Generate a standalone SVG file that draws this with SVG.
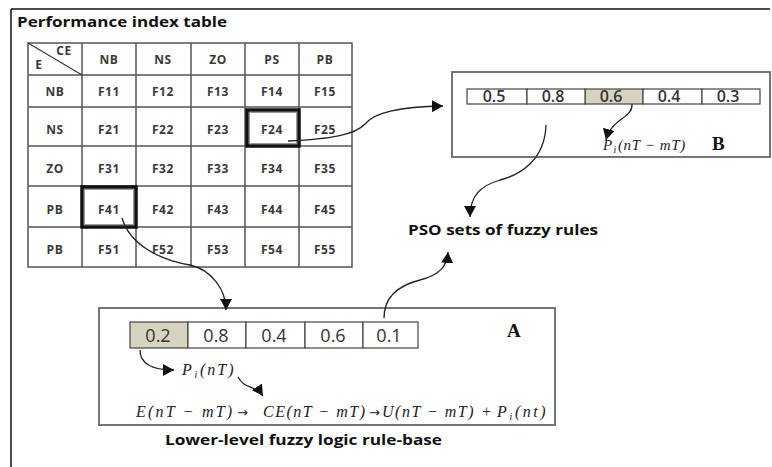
<svg xmlns="http://www.w3.org/2000/svg" width="772" height="467" viewBox="0 0 772 467">
  <defs>
    <marker id="arrow" markerUnits="userSpaceOnUse" markerWidth="12" markerHeight="12" refX="11" refY="6" orient="auto">
      <path d="M0,0 L11,6 L0,12 Z" fill="#111"/>
    </marker>
    <style>
      .frame { fill: none; stroke: #111; stroke-width: 1.5; }
      .grid { fill: none; stroke: #555; stroke-width: 1.5; }
      .cell { font-family: "Open Sans", "Liberation Sans", sans-serif; font-weight: bold; font-size: 12px; letter-spacing: 0.6px; fill: #3a3a3a; text-anchor: middle; }
      .hot { fill: none; stroke: #111; stroke-width: 3.5; }
      .hot-inner { fill: none; stroke: #999; stroke-width: 1; }
      .box { fill: #fff; stroke: #666; stroke-width: 1.8; }
      .vcell { fill: #fff; stroke: #444; stroke-width: 1.2; }
      .vcell.sel { fill: #d8d3bf; }
      .valB { font-family: "Open Sans", "Liberation Sans", sans-serif; font-size: 16px; font-weight: 600; fill: #333; text-anchor: middle; }
      .valA { font-family: "Open Sans", "Liberation Sans", sans-serif; font-size: 18px; fill: #333; text-anchor: middle; }
      .title { font-family: "Open Sans", "Liberation Sans", sans-serif; font-weight: bold; font-size: 14px; fill: #111; }
      .math { font-family: "Liberation Serif", "DejaVu Serif", serif; font-style: italic; font-size: 16px; letter-spacing: 1.5px; fill: #222; }
      .sub { font-size: 10px; }
      .op { font-family: "DejaVu Sans", sans-serif; font-style: normal; font-size: 13px; fill: #222; }
      .tag { font-family: "Liberation Serif", "DejaVu Serif", serif; font-weight: bold; font-size: 19px; fill: #111; }
      .conn { fill: none; stroke: #222; stroke-width: 1.3; marker-end: url(#arrow); }
    </style>
  </defs>

  <rect width="772" height="467" fill="#fff"/>

  <!-- outer frame: top and left edges -->
  <path class="frame" d="M11,9 H770 M11,9 V467"/>

  <text class="title" x="17" y="27" textLength="210" lengthAdjust="spacingAndGlyphs">Performance index table</text>

  <!-- performance index table -->
  <g id="table">
    <path class="grid" d="M28,43 H352 V267 H28 Z
      M82,43 V267 M136,43 V267 M191,43 V267 M245,43 V267 M299,43 V267
      M28,75 H352 M28,107 H352 M28,146 H352 M28,186 H352 M28,227 H352"/>
    <path d="M28,43 L82,75" stroke="#333" stroke-width="1.2"/>
    <text class="cell" x="64" y="55">CE</text>
    <text class="cell" x="39" y="69">E</text>

    <text class="cell" x="109" y="64">NB</text>
    <text class="cell" x="163" y="64">NS</text>
    <text class="cell" x="218" y="64">ZO</text>
    <text class="cell" x="272" y="64">PS</text>
    <text class="cell" x="325" y="64">PB</text>

    <text class="cell" x="55" y="96">NB</text>
    <text class="cell" x="109" y="96">F11</text>
    <text class="cell" x="163" y="96">F12</text>
    <text class="cell" x="218" y="96">F13</text>
    <text class="cell" x="272" y="96">F14</text>
    <text class="cell" x="325" y="96">F15</text>

    <text class="cell" x="55" y="134">NS</text>
    <text class="cell" x="109" y="134">F21</text>
    <text class="cell" x="163" y="134">F22</text>
    <text class="cell" x="218" y="134">F23</text>
    <text class="cell" x="272" y="134">F24</text>
    <text class="cell" x="325" y="134">F25</text>

    <text class="cell" x="55" y="173">ZO</text>
    <text class="cell" x="109" y="173">F31</text>
    <text class="cell" x="163" y="173">F32</text>
    <text class="cell" x="218" y="173">F33</text>
    <text class="cell" x="272" y="173">F34</text>
    <text class="cell" x="325" y="173">F35</text>

    <text class="cell" x="55" y="214">PB</text>
    <text class="cell" x="109" y="214">F41</text>
    <text class="cell" x="163" y="214">F42</text>
    <text class="cell" x="218" y="214">F43</text>
    <text class="cell" x="272" y="214">F44</text>
    <text class="cell" x="325" y="214">F45</text>

    <text class="cell" x="55" y="254">PB</text>
    <text class="cell" x="109" y="254">F51</text>
    <text class="cell" x="163" y="254">F52</text>
    <text class="cell" x="218" y="254">F53</text>
    <text class="cell" x="272" y="254">F54</text>
    <text class="cell" x="325" y="254">F55</text>
  </g>

  <!-- highlighted cells -->
  <g id="cell-F24">
    <rect class="hot" x="247" y="110" width="52" height="36"/>
    <rect class="hot-inner" x="249.5" y="112.5" width="47" height="31"/>
  </g>
  <g id="cell-F41">
    <rect class="hot" x="82" y="187" width="54" height="40"/>
    <rect class="hot-inner" x="84.5" y="189.5" width="49" height="35"/>
  </g>

  <!-- particle B -->
  <g id="box-B">
    <rect class="box" x="452" y="72" width="318" height="85"/>
    <rect class="vcell" x="467" y="89" width="60" height="15"/>
    <rect class="vcell sel" x="585" y="89" width="58" height="15"/>
    <rect class="vcell" x="527" y="89" width="58" height="15"/>
    <rect class="vcell" x="643" y="89" width="59" height="15"/>
    <rect class="vcell" x="702" y="89" width="58" height="15"/>
    <text class="valB" x="494" y="102">0.5</text>
    <text class="valB" x="553" y="102">0.8</text>
    <text class="valB" x="611" y="102">0.6</text>
    <text class="valB" x="669" y="102">0.4</text>
    <text class="valB" x="728" y="102">0.3</text>
    <text class="math" y="150" style="font-size:15px;letter-spacing:0.6px"><tspan x="603">P</tspan><tspan class="sub" x="613.5" dy="3">i</tspan><tspan x="618" dy="-3">(nT − mT)</tspan></text>
    <text class="tag" x="712" y="150">B</text>
  </g>

  <!-- particle A -->
  <g id="box-A">
    <rect class="box" x="99" y="308" width="456" height="117"/>
    <rect class="vcell sel" x="130" y="322" width="58" height="26"/>
    <rect class="vcell" x="188" y="322" width="58" height="26"/>
    <rect class="vcell" x="246" y="322" width="59" height="26"/>
    <rect class="vcell" x="305" y="322" width="58" height="26"/>
    <rect class="vcell" x="363" y="322" width="55" height="26"/>
    <text class="valA" x="158" y="342">0.2</text>
    <text class="valA" x="216" y="342">0.8</text>
    <text class="valA" x="274" y="342">0.4</text>
    <text class="valA" x="333" y="342">0.6</text>
    <text class="valA" x="389" y="342">0.1</text>
    <text class="tag" x="507" y="337">A</text>
    <text class="math" y="375" style="letter-spacing:2px"><tspan x="182">P</tspan><tspan class="sub" x="194.5" dy="3">i</tspan><tspan x="200" dy="-3">(nT)</tspan></text>
    <text class="math" y="417"><tspan x="136" style="letter-spacing:2.2px">E(nT − mT)</tspan><tspan class="op" x="237">→</tspan><tspan x="263">CE(nT − mT)</tspan><tspan class="op" x="369">→</tspan><tspan x="382">U(nT − mT)</tspan><tspan x="481">+</tspan><tspan x="497">P</tspan><tspan class="sub" x="509.5" dy="3">i</tspan><tspan x="515" dy="-3" style="letter-spacing:2.5px">(nt)</tspan></text>
  </g>

  <g id="label-pso">
    <text class="title" x="408" y="235" textLength="190" lengthAdjust="spacingAndGlyphs">PSO sets of fuzzy rules</text>
  </g>
  <g id="label-lower">
    <text class="title" x="165" y="445" textLength="277" lengthAdjust="spacingAndGlyphs">Lower-level fuzzy logic rule-base</text>
  </g>

  <!-- connectors -->
  <g id="connectors">
    <path class="conn" d="M288,141 C330,139 355,135 365,124 C375,112 400,107 443,106"/>
    <path class="conn" d="M632,104 C633,119 612,117 606,140"/>
    <path class="conn" d="M546,125 C545,160 520,175 500,180 C480,186 470,196 470,217"/>
    <path class="conn" d="M122,218 C130,245 160,260 190,265 C212,270 226,290 226,310"/>
    <path class="conn" d="M384,318 C384,295 400,285 420,280 C440,275 447,266 448,252"/>
    <path class="conn" d="M140,350 C140,362 150,370 174,370"/>
    <path class="conn" d="M238,377 C245,390 255,384 263,396"/>
  </g>
</svg>
